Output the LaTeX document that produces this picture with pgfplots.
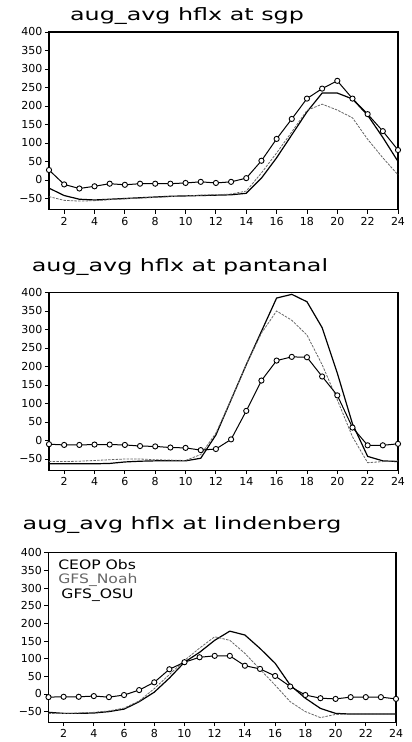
\documentclass[border=0pt]{standalone}
\usepackage{fontspec}
\setmainfont{DejaVu Sans}
\usepackage{pgfplots}
\pgfplotsset{compat=1.18}

\pgfplotsset{
  hf/.style={
    scale only axis, width=349pt, height=177.6pt,
    xmin=1, xmax=24, ymin=-80, ymax=400,
    xtick={2,4,...,24},
    ytick={-50,0,50,100,150,200,250,300,350,400},
    yticklabels={−50,0,50,100,150,200,250,300,350,400},
    tick align=outside, tick pos=left, major tick length=4pt,
    tick style={black, line width=0.9pt},
    ticklabel style={font=\fontsize{11}{11}\selectfont},
    yticklabel style={xshift=1pt},
    /pgf/number format/assume math mode=true,
    axis line style={line width=1.1pt},
    anchor=north west, clip=false,
  },
  obs/.style={black, line width=1pt, mark=*, mark size=2.6pt,
    mark options={solid, fill=white, line width=0.9pt}},
  noah/.style={black!60, line width=0.8pt, dash pattern=on 2.5pt off 1.2pt},
  osu/.style={black, line width=1.2pt},
}
\tikzset{ttl/.style={font=\fontsize{17}{17}\selectfont, xscale=1.4, anchor=center}}

\begin{document}
\begin{tikzpicture}
\path[use as bounding box] (0,0) rectangle (412pt,742pt);

\node[ttl] at (187pt,726pt) {aug\_avg hflx at sgp};
\begin{axis}[hf, at={(49pt,710pt)}]
\addplot[osu] coordinates {(1,-22)(2,-42)(3,-52)(4,-54)(5,-52)(6,-50)(7,-48)(8,-46)(9,-44)(10,-43)(11,-42)(12,-41)(13,-40)(14,-36)(15,5)(16,60)(17,122)(18,184)(19,235)(20,235)(21,219)(22,175)(23,115)(24,50)};
\addplot[noah] coordinates {(1,-45)(2,-55)(3,-57)(4,-56)(5,-53)(6,-51)(7,-49)(8,-47)(9,-45)(10,-43)(11,-41)(12,-40)(13,-38)(14,-30)(15,19)(16,73)(17,130)(18,188)(19,205)(20,189)(21,168)(22,110)(23,60)(24,14)};
\addplot[obs] coordinates {(1,27)(2,-12)(3,-23)(4,-17)(5,-10)(6,-13)(7,-10)(8,-10)(9,-10)(10,-8)(11,-5)(12,-8)(13,-5)(14,5)(15,52)(16,111)(17,165)(18,220)(19,247)(20,268)(21,220)(22,178)(23,132)(24,81)};
\end{axis}

\node[ttl] at (180pt,475pt) {aug\_avg hflx at pantanal};
\begin{axis}[hf, at={(49pt,449.5pt)}]
\addplot[osu] coordinates {(1,-63)(2,-63)(3,-63)(4,-63)(5,-62)(6,-58)(7,-56)(8,-55)(9,-55)(10,-55)(11,-48)(12,15)(13,110)(14,205)(15,295)(16,385)(17,395)(18,375)(19,305)(20,182)(21,45)(22,-43)(23,-55)(24,-57)};
\addplot[noah] coordinates {(1,-57)(2,-57)(3,-56)(4,-54)(5,-52)(6,-50)(7,-50)(8,-52)(9,-53)(10,-54)(11,-38)(12,20)(13,110)(14,205)(15,290)(16,350)(17,325)(18,285)(19,205)(20,110)(21,10)(22,-60)(23,-57)(24,-55)};
\addplot[obs] coordinates {(1,-10)(2,-12)(3,-12)(4,-11)(5,-11)(6,-12)(7,-15)(8,-16)(9,-19)(10,-20)(11,-26)(12,-23)(13,3)(14,80)(15,162)(16,216)(17,226)(18,225)(19,173)(20,122)(21,35)(22,-13)(23,-13)(24,-9)};
\end{axis}

\node[ttl] at (182pt,217pt) {aug\_avg hflx at lindenberg};
\begin{axis}[hf, at={(48.5pt,189.2pt)}, width=347.5pt, height=169.4pt]
\addplot[osu] coordinates {(1,-52)(2,-55)(3,-55)(4,-54)(5,-50)(6,-43)(7,-22)(8,5)(9,45)(10,90)(11,118)(12,152)(13,178)(14,167)(15,129)(16,87)(17,25)(18,-12)(19,-41)(20,-55)(21,-57)(22,-57)(23,-57)(24,-57)};
\addplot[noah] coordinates {(1,-55)(2,-55)(3,-54)(4,-52)(5,-48)(6,-40)(7,-20)(8,15)(9,55)(10,95)(11,130)(12,162)(13,152)(14,115)(15,70)(16,25)(17,-22)(18,-50)(19,-67)(20,-58)(21,-57)(22,-57)(23,-57)(24,-57)};
\addplot[obs] coordinates {(1,-9)(2,-8)(3,-8)(4,-6)(5,-9)(6,-3)(7,11)(8,33)(9,70)(10,90)(11,104)(12,108)(13,108)(14,80)(15,71)(16,51)(17,21)(18,-3)(19,-12)(20,-14)(21,-9)(22,-9)(23,-9)(24,-14)};
\node[anchor=west, font=\fontsize{13}{13}\selectfont, xscale=1.2] at (rel axis cs:0.016,0.928) {CEOP Obs};
\node[anchor=west, font=\fontsize{13}{13}\selectfont, xscale=1.2, text=black!60] at (rel axis cs:0.016,0.84) {GFS\_Noah};
\node[anchor=west, font=\fontsize{13}{13}\selectfont, xscale=1.2] at (rel axis cs:0.025,0.752) {GFS\_OSU};
\end{axis}
\end{tikzpicture}
\end{document}
